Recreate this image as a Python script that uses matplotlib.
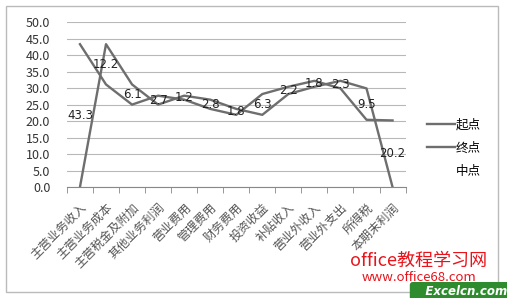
import numpy as np
import matplotlib.pyplot as plt
from matplotlib.patches import Rectangle

plt.rcParams['font.family'] = ['Noto Sans CJK SC', 'DejaVu Sans']

# 数据
categories = ['主营业务收入', '主营业务成本', '主营税金及附加', '其他业务利润', '营业费用',
              '管理费用', '财务费用', '投资收益', '补贴收入', '营业外收入',
              '营业外支出', '所得税', '本期末利润']
start = [0.0, 43.3, 31.1, 25.0, 27.7, 26.5, 23.7, 21.9, 28.2, 30.4, 32.2, 29.9, 0.0]
end = [43.3, 31.1, 25.0, 27.7, 26.5, 23.7, 21.9, 28.2, 30.4, 32.2, 29.9, 20.4, 20.2]
labels = [43.3, 12.2, 6.1, 2.7, 1.2, 2.8, 1.8, 6.3, 2.2, 1.8, 2.3, 9.5, 20.2]

mid = [(a + b) / 2 for a, b in zip(start, end)]
x = np.arange(len(categories))

fig = plt.figure(figsize=(5.07, 2.98), dpi=100)
ax = fig.add_axes([0.132, 0.372, 0.668, 0.554])

line_color = '#6e6e6e'
ax.plot(x, start, color=line_color, lw=1.7, label='起点')
ax.plot(x, end, color=line_color, lw=1.7, label='终点')
ax.plot(x, mid, color='none', lw=0, label='中点')

# 中点数据标签
for xi, yi, v in zip(x, mid, labels):
    ax.text(xi, yi, f'{v:.1f}', ha='center', va='center', fontsize=8.5,
            family=['DejaVu Sans'], color='#222222')

ax.set_xlim(-0.5, len(categories) - 0.5)
ax.set_ylim(0, 50)
ax.set_yticks(np.arange(0, 50.1, 5))
ax.set_yticklabels([f'{v:.1f}' for v in np.arange(0, 50.1, 5)], fontsize=9,
                   color='#333333')
ax.yaxis.grid(True, color='#b8b8b8', lw=0.8)
ax.set_axisbelow(True)
ax.tick_params(axis='y', length=0, pad=12)

ax.set_xticks(x)
ax.set_xticklabels(categories, rotation=45, ha='right', rotation_mode='anchor',
                   fontsize=8.7, color='#555555')
ax.set_xticks(np.arange(-0.5, len(categories)), minor=True)
ax.tick_params(axis='x', which='major', length=0, pad=10)
ax.tick_params(axis='x', which='minor', length=4, color='#888888')

for s in ['top', 'right', 'left']:
    ax.spines[s].set_visible(False)
ax.spines['bottom'].set_color('#888888')

leg = ax.legend(loc='center left', bbox_to_anchor=(1.03, 0.235), frameon=False,
                fontsize=9, handlelength=2.2, handletextpad=0.1, labelspacing=0.85)

# 边框
fig.patches.append(Rectangle((0.012, 0.02), 0.97, 0.96, transform=fig.transFigure,
                             fill=False, edgecolor='#bbbbbb', lw=1))

# 水印
fig.text(1.0, 0.022, '   Excelcn.com', color='white', fontsize=8.5, weight='bold',
         style='italic', ha='right', va='center', family=['DejaVu Sans'],
         bbox=dict(boxstyle='round,pad=0.25', facecolor='#2e8b2e', edgecolor='none'))
fig.text(0.96, 0.125, 'office教程学习网', color='#e8141c', fontsize=13,
         ha='right', va='center')
fig.text(0.94, 0.068, 'www.office68.com', color='#e8141c', fontsize=9.5,
         ha='right', va='center')

plt.savefig('out.png', dpi=100)
